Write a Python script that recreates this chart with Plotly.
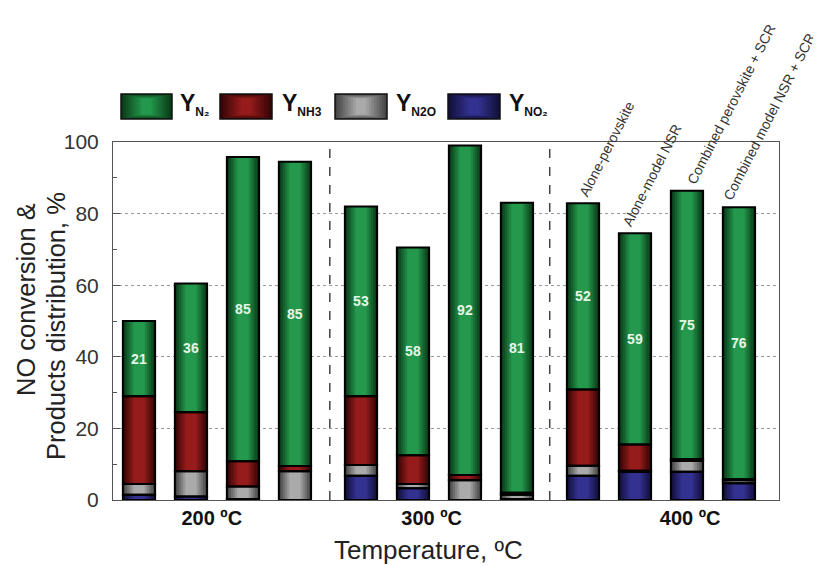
import plotly.graph_objects as go

# ---- data ----
x_pos = [0, 1, 2, 3, 4.27, 5.27, 6.27, 7.27, 8.54, 9.54, 10.54, 11.54]
y_no2 = [1.5, 1.0, 0.3, 0.0, 6.8, 3.3, 0.0, 0.3, 6.8, 7.9, 7.9, 4.7]
y_n2o = [3.0, 7.0, 3.5, 8.0, 3.0, 1.2, 5.5, 1.2, 2.8, 0.3, 3.0, 0.8]
y_nh3 = [24.5, 16.5, 7.0, 1.5, 19.2, 8.0, 1.5, 0.5, 21.3, 7.3, 0.5, 0.3]
y_n2 = [21, 36, 85, 85, 53, 58, 92, 81, 52, 59, 75, 76]
group_labels = ["200 ºC", "300 ºC", "400 ºC"]
group_label_pos = [1.4, 5.63, 10.6]
config_labels = ["Alone-perovskite", "Alone-model NSR",
                 "Combined perovskite + SCR", "Combined model NSR + SCR"]
separators = [3.67, 7.9]

# (edge colour, centre colour) for the shaded look of the bars
shade = {"no2": ((18, 16, 60), (52, 50, 145)),
         "n2o": ((70, 70, 70), (170, 170, 170)),
         "nh3": ((55, 5, 5), (150, 28, 28)),
         "n2": ((10, 60, 25), (36, 152, 76))}

BAR_W = 0.62
layer_w = [0.62, 0.54, 0.46, 0.38, 0.30, 0.22]


def mix(a, b, t):
    return "rgb(%d,%d,%d)" % tuple(round(a[k] + (b[k] - a[k]) * t) for k in range(3))


series = [("no2", y_no2), ("n2o", y_n2o), ("nh3", y_nh3), ("n2", y_n2)]
fig = go.Figure()
base = [0.0] * len(x_pos)
for key, vals in series:
    edge, centre = shade[key]
    n = len(layer_w)
    for li, w in enumerate(layer_w):
        fig.add_bar(x=x_pos, y=vals, base=base, width=w,
                    marker_color=mix(edge, centre, li / (n - 1)),
                    marker_line_width=0, showlegend=False, hoverinfo="skip")
    base = [b + v for b, v in zip(base, vals)]

# outlines (and N2 labels) on top
base = [0.0] * len(x_pos)
for key, vals in series:
    kw = {}
    if key == "n2":
        kw = dict(text=["<b>%d</b>" % v for v in vals], textposition="inside",
                  insidetextanchor="middle", textangle=0,
                  textfont=dict(family="Liberation Sans", size=14, color="#e6f5e6"))
    fig.add_bar(x=x_pos, y=vals, base=base, width=BAR_W,
                marker_color="rgba(0,0,0,0)", marker_line_color="#000",
                marker_line_width=2, showlegend=False, **kw)
    base = [b + v for b, v in zip(base, vals)]

# page body has an 8px margin, so the figure is offset by 8px
OFF = 8
W, H = 821 - OFF, 565 - OFF
L, R, T, B = 113 - OFF, 42, 142 - OFF, 65
pw, ph = W - L - R, H - T - B


def px_x(p):
    return (p - 113) / pw


def px_y(p):
    return (500 - p) / ph


shapes = []
for s in separators:
    shapes.append(dict(type="line", xref="x", yref="paper", x0=s, x1=s, y0=0, y1=1,
                       line=dict(color="#444", width=1.5, dash="dash")))

# custom legend with shaded swatches
leg_items = [("n2", 121, 172, 178), ("nh3", 220, 272, 280),
             ("n2o", 335, 387, 394), ("no2", 448, 500, 507)]
leg_texts = ["Y<sub><span style='font-size:12px'>N₂</span></sub>",
             "Y<sub><span style='font-size:12px'>NH3</span></sub>",
             "Y<sub><span style='font-size:12px'>N2O</span></sub>",
             "Y<sub><span style='font-size:12px'>NO₂</span></sub>"]
annotations = []
for (key, x0, x1, tx), txt in zip(leg_items, leg_texts):
    edge, centre = shade[key]
    steps = 9
    for k in range(steps):
        ix = (x1 - x0) * 0.45 * k / steps
        iy = 10 * k / steps
        shapes.append(dict(type="rect", xref="paper", yref="paper",
                           x0=px_x(x0 + ix), x1=px_x(x1 - ix),
                           y0=px_y(119 - iy * 0.5), y1=px_y(94 + iy * 0.5),
                           fillcolor=mix(edge, centre, k / (steps - 1)), line_width=0))
    shapes.append(dict(type="rect", xref="paper", yref="paper",
                       x0=px_x(x0), x1=px_x(x1), y0=px_y(119), y1=px_y(94),
                       fillcolor="rgba(0,0,0,0)", line=dict(color="#111", width=1.5)))
    annotations.append(dict(xref="paper", yref="paper", x=px_x(tx), y=px_y(105),
                            xanchor="left", yanchor="middle", showarrow=False,
                            text="<b>" + txt + "</b>",
                            font=dict(family="Liberation Sans", size=23, color="#111")))

# rotated configuration labels above 400 ºC bars
tops = base
lab_xshift = [-10, -18, -6, -21]
for i, lab in enumerate(config_labels):
    j = 8 + i
    annotations.append(dict(xref="x", yref="y", x=x_pos[j], y=tops[j], text=lab,
                            textangle=-63, xanchor="left", yanchor="bottom",
                            xshift=lab_xshift[i], yshift=2, showarrow=False,
                            font=dict(family="Liberation Sans", size=14, color="#333")))

annotations.append(dict(xref="paper", yref="paper", x=px_x(428), y=px_y(550),
                        xanchor="center", yanchor="middle", showarrow=False,
                        text="Temperature, ºC",
                        font=dict(family="Liberation Sans", size=26, color="#222")))
annotations.append(dict(xref="paper", yref="paper", x=px_x(26), y=px_y(300),
                        xanchor="center", yanchor="middle", showarrow=False, textangle=-90,
                        text="NO conversion &",
                        font=dict(family="Liberation Sans", size=25.5, color="#222")))
annotations.append(dict(xref="paper", yref="paper", x=px_x(56), y=px_y(326),
                        xanchor="center", yanchor="middle", showarrow=False, textangle=-90,
                        text="Products distribution, %",
                        font=dict(family="Liberation Sans", size=25.5, color="#222")))

fig.update_layout(
    barmode="overlay",
    width=W, height=H,
    margin=dict(l=L, r=R, t=T, b=B, pad=0),
    paper_bgcolor="white", plot_bgcolor="white",
    font=dict(family="Liberation Sans", color="#333"),
    shapes=shapes, annotations=annotations,
    xaxis=dict(range=[-0.5, 12.31], tickmode="array", tickvals=group_label_pos,
               ticktext=["<b>%s</b>" % g for g in group_labels], ticks="",
               tickfont=dict(size=20, color="#111"), showline=True, mirror=True,
               linecolor="#555", linewidth=1, showgrid=False, zeroline=False),
    yaxis=dict(range=[0, 100], tickvals=[0, 20, 40, 60, 80, 100], ticks="inside",
               ticklen=7, tickcolor="#555", tickfont=dict(size=21, color="#333"),
               ticklabelstandoff=9,
               minor=dict(tickvals=[10, 30, 50, 70, 90], ticks="inside", ticklen=4,
                          tickcolor="#555", showgrid=False),
               showline=True, mirror=True, linecolor="#555", linewidth=1,
               showgrid=True, gridcolor="#999", griddash="dot", gridwidth=1,
               zeroline=False),
)

fig.write_html("out.html")
